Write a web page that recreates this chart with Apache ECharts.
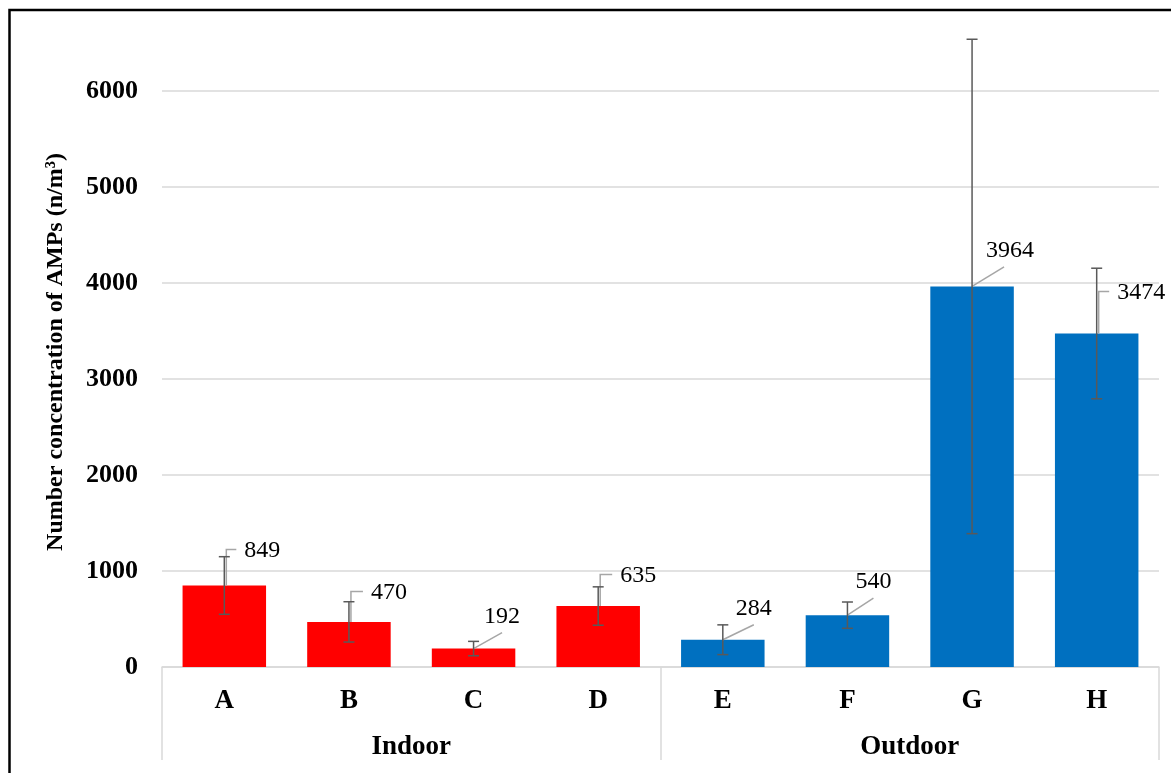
<!DOCTYPE html>
<html>
<head>
<meta charset="utf-8">
<script src="https://cdn.jsdelivr.net/npm/echarts@6/dist/echarts.min.js"></script>
<style>
html,body{margin:0;padding:0;background:#fff;}
#chart{width:1171px;height:773px;}
</style>
</head>
<body>
<div id="chart"></div>
<script>
// ---- data ----
const categories = ['A', 'B', 'C', 'D', 'E', 'F', 'G', 'H'];
const groups = ['Indoor', 'Outdoor'];
const values = [849, 470, 192, 635, 284, 540, 3964, 3474];
const errors = [300, 210, 75, 200, 155, 137, 2575, 680];
const barColors = ['#FF0000', '#FF0000', '#FF0000', '#FF0000', '#0070C0', '#0070C0', '#0070C0', '#0070C0'];
const yTicks = { min: 0, max: 6000, interval: 1000 };

// ---- label placement (style): [left offset px, center offset px, leader type] ----
const labelPlacement = [
  [20, -34.5, 'elbow'], [22, -29, 'elbow'], [10.5, -32, 'diag'], [22, -30, 'elbow'],
  [13, -31, 'diag'], [8, -33, 'diag'], [14, -35.5, 'diag'], [20.5, -40.5, 'elbow']
];

const FONT = "'Liberation Serif', 'Times New Roman', serif";
const chart = echarts.init(document.getElementById('chart'), null, { renderer: 'canvas' });

const option = {
  backgroundColor: '#ffffff',
  animation: false,
  grid: { left: 162, right: 12, top: 91, bottom: 106, containLabel: false },
  xAxis: [
    {
      type: 'category',
      data: categories,
      position: 'bottom',
      axisLine: { show: true, lineStyle: { color: '#D9D9D9', width: 1.5 } },
      axisTick: { show: false },
      axisLabel: { margin: 21, color: '#000', fontFamily: FONT, fontWeight: 'bold', fontSize: 27 },
      splitLine: { show: false }
    },
    {
      type: 'category',
      data: groups,
      position: 'bottom',
      axisLine: { show: false },
      axisTick: { show: true, length: 93, lineStyle: { color: '#D9D9D9', width: 1.5 } },
      axisLabel: { margin: 67, color: '#000', fontFamily: FONT, fontWeight: 'bold', fontSize: 27 },
      splitLine: { show: false }
    }
  ],
  yAxis: {
    type: 'value',
    min: yTicks.min,
    max: yTicks.max,
    interval: yTicks.interval,
    axisLine: { show: false },
    axisTick: { show: false },
    axisLabel: {
      margin: 24, color: '#000', fontFamily: FONT, fontWeight: 'bold', fontSize: 26,
      formatter: function (v) { return String(v); }
    },
    splitLine: { show: true, lineStyle: { color: '#D9D9D9', width: 1.5 } }
  },
  graphic: [
    {
      type: 'rect',
      shape: { x: 9.5, y: 10, width: 1300, height: 900 },
      style: { fill: 'none', stroke: '#000', lineWidth: 2.5 },
      silent: true,
      z: 100
    },
    {
      type: 'text',
      x: 56,
      y: 352,
      rotation: Math.PI / 2,
      style: {
        text: 'Number concentration of AMPs (n/m³)',
        align: 'center',
        verticalAlign: 'middle',
        fontFamily: FONT,
        fontWeight: 'bold',
        fontSize: 24,
        fill: '#000'
      }
    }
  ],
  series: [
    {
      type: 'bar',
      xAxisIndex: 0,
      barWidth: '67%',
      data: values.map((v, i) => ({ value: v, itemStyle: { color: barColors[i] } })),
      z: 2
    },
    {
      type: 'custom',
      xAxisIndex: 0,
      clip: false,
      z: 5,
      data: values.map((v, i) => [i, v, errors[i]]),
      encode: { x: 0, y: 1 },
      renderItem: function (params, api) {
        const i = api.value(0), v = api.value(1), e = api.value(2);
        const top = api.coord([i, v]);
        const hi = api.coord([i, v + e]);
        const lo = api.coord([i, v - e]);
        const cx = top[0];
        const p = labelPlacement[i];
        const tl = cx + p[0];
        const ty = top[1] + p[1];
        let pts;
        if (p[2] === 'elbow') {
          pts = [[cx + 2, top[1]], [cx + 2, ty - 1.5], [tl - 8, ty - 1.5]];
        } else {
          pts = [[cx, top[1]], [tl + 18, ty + 16]];
        }
        const cap = 5.5;
        const errStyle = { stroke: '#595959', lineWidth: 1.5 };
        return {
          type: 'group',
          children: [
            { type: 'polyline', shape: { points: pts }, style: { stroke: '#A6A6A6', lineWidth: 1.5, fill: null } },
            { type: 'line', shape: { x1: cx, y1: hi[1], x2: cx, y2: lo[1] }, style: errStyle },
            { type: 'line', shape: { x1: cx - cap, y1: hi[1], x2: cx + cap, y2: hi[1] }, style: errStyle },
            { type: 'line', shape: { x1: cx - cap, y1: lo[1], x2: cx + cap, y2: lo[1] }, style: errStyle },
            {
              type: 'text',
              style: {
                text: String(values[i]),
                x: tl,
                y: ty,
                align: 'left',
                verticalAlign: 'middle',
                fontFamily: FONT,
                fontSize: 24,
                fill: '#000'
              }
            }
          ]
        };
      }
    }
  ]
};
chart.setOption(option);
</script>
</body>
</html>
